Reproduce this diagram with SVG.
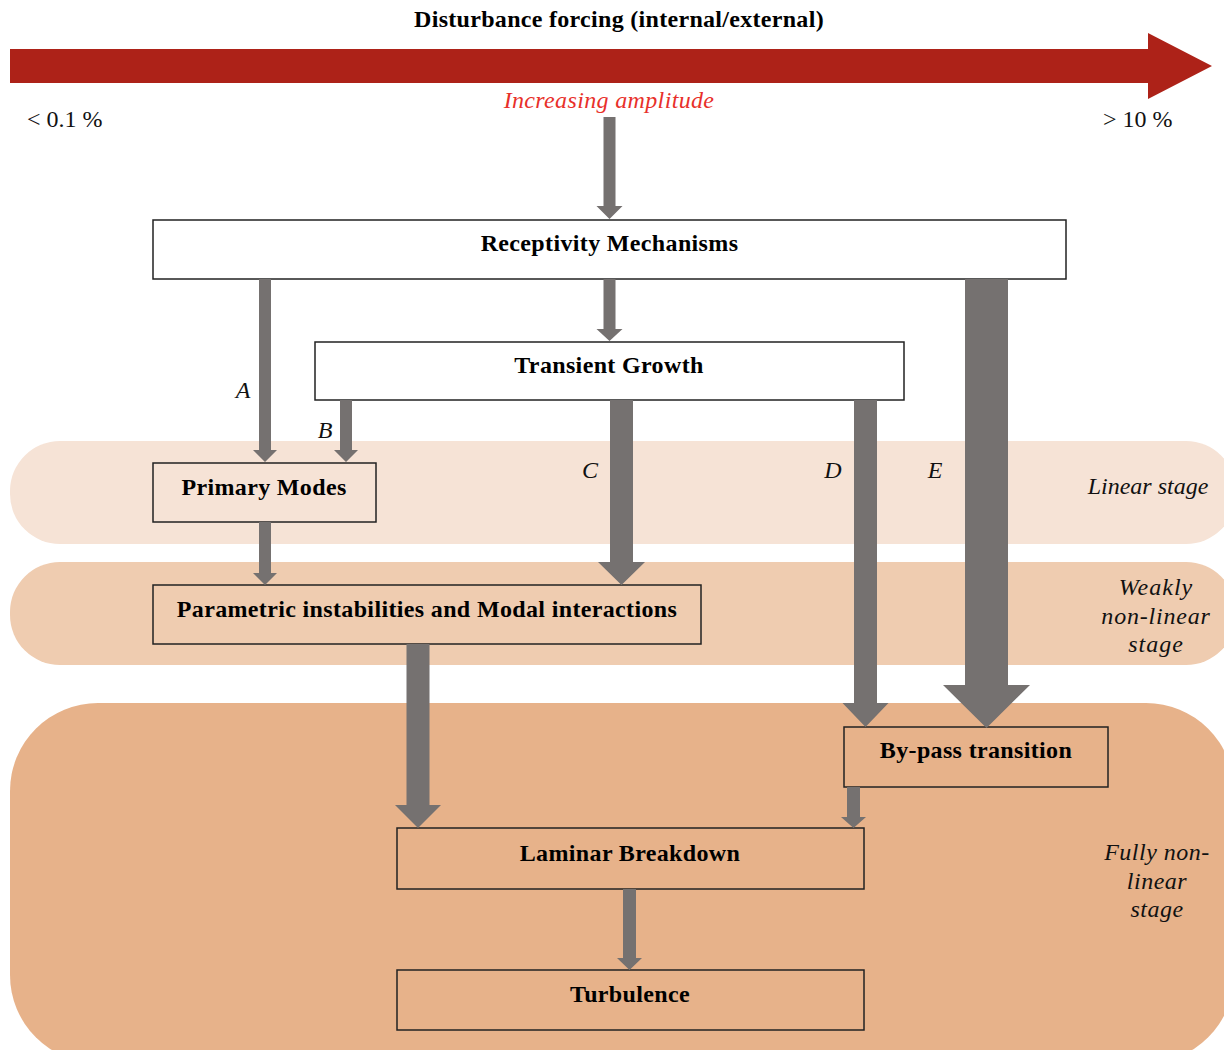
<svg xmlns="http://www.w3.org/2000/svg" width="1224" height="1050" viewBox="0 0 1224 1050">
<style>
.box{stroke:#222;stroke-width:1.5}
.lbl{font-family:"Liberation Serif","Times New Roman",serif;font-weight:bold;font-size:24px;letter-spacing:0.35px;fill:#000;text-anchor:middle}
.it{font-family:"Liberation Serif","Times New Roman",serif;font-style:italic;font-size:24px;fill:#111;text-anchor:middle}
.pct{font-family:"Liberation Serif","Times New Roman",serif;font-size:24px;fill:#111}
.arr{fill:#757170}
</style>
<rect width="1224" height="1050" fill="#fff"/>
<g id="bands">
<rect id="band-linear" x="10" y="441" width="1226" height="103" rx="50" ry="50" fill="#F6E3D6"/>
<rect id="band-weak" x="10" y="562" width="1226" height="103" rx="50" ry="50" fill="#EFCCB0"/>
<rect id="band-full" x="10" y="703" width="1224" height="360" rx="88" ry="88" fill="#E7B28A"/>
</g>
<g id="forcing">
<polygon points="10,49 1148,49 1148,33 1212,66 1148,99 1148,83 10,83" fill="#AD2218"/>
<text class="lbl" x="619" y="27" style="letter-spacing:0.3px">Disturbance forcing (internal/external)</text>
<text class="it" x="609" y="108" style="fill:#E8302A;letter-spacing:0.35px">Increasing amplitude</text>
<text class="pct" x="27" y="127">&lt; 0.1 %</text>
<text class="pct" x="1103" y="127">&gt; 10 %</text>
</g>
<g id="stage-labels">
<text class="it" x="1148" y="494">Linear stage</text>
<text class="it" x="1156" y="595" style="letter-spacing:1px">Weakly</text>
<text class="it" x="1156" y="624" style="letter-spacing:0.8px">non-linear</text>
<text class="it" x="1156" y="652" style="letter-spacing:1px">stage</text>
<text class="it" x="1157" y="860" style="letter-spacing:0.5px">Fully non-</text>
<text class="it" x="1157" y="889" style="letter-spacing:0.5px">linear</text>
<text class="it" x="1157" y="917" style="letter-spacing:0.5px">stage</text>
</g>
<g id="node-receptivity">
<rect class="box" x="153" y="220" width="913" height="59" fill="#fff"/>
<text class="lbl" x="609.5" y="251">Receptivity Mechanisms</text>
</g>
<g id="node-transient">
<rect class="box" x="315" y="342" width="589" height="58" fill="#fff"/>
<text class="lbl" x="609" y="373">Transient Growth</text>
</g>
<g id="node-primary">
<rect class="box" x="153" y="463" width="223" height="59" fill="none"/>
<text class="lbl" x="264" y="495">Primary Modes</text>
</g>
<g id="node-parametric">
<rect class="box" x="153" y="585" width="548" height="59" fill="none"/>
<text class="lbl" x="427" y="617">Parametric instabilities and Modal interactions</text>
</g>
<g id="node-bypass">
<rect class="box" x="844" y="727" width="264" height="60" fill="none"/>
<text class="lbl" x="976" y="758">By-pass transition</text>
</g>
<g id="node-laminar">
<rect class="box" x="397" y="828" width="467" height="61" fill="none"/>
<text class="lbl" x="630" y="861">Laminar Breakdown</text>
</g>
<g id="node-turbulence">
<rect class="box" x="397" y="970" width="467" height="60" fill="none"/>
<text class="lbl" x="630" y="1002">Turbulence</text>
</g>
<g id="connectors">
<polygon class="arr" points="603.5,117 615.5,117 615.5,206 622.5,206 609.5,219 596.5,206 603.5,206"/>
<polygon class="arr" points="603.5,279 615.5,279 615.5,329 622.5,329 609.5,341 596.5,329 603.5,329"/>
<polygon class="arr" points="259,279 271,279 271,450 277,450 265,462 253,450 259,450"/>
<polygon class="arr" points="340,400 352,400 352,450 358,450 346,462 334,450 340,450"/>
<polygon class="arr" points="610,400 633,400 633,562 645,562 621.5,585 598,562 610,562"/>
<polygon class="arr" points="854,400 877,400 877,703 888.5,703 865.5,727 842.5,703 854,703"/>
<polygon class="arr" points="965,279 1008,279 1008,685 1030,685 986.5,728 943,685 965,685"/>
<polygon class="arr" points="259,522 271,522 271,573 277,573 265,585 253,573 259,573"/>
<polygon class="arr" points="406.5,644 429.5,644 429.5,805 441,805 418,828 395,805 406.5,805"/>
<polygon class="arr" points="847,787 860,787 860,817 866,817 853.5,828 841,817 847,817"/>
<polygon class="arr" points="623,889 636,889 636,958 642,958 629.5,970 617,958 623,958"/>
<text class="it" x="243" y="398">A</text>
<text class="it" x="325" y="438">B</text>
<text class="it" x="590" y="478">C</text>
<text class="it" x="833" y="478">D</text>
<text class="it" x="935" y="478">E</text>
</g>
</svg>
